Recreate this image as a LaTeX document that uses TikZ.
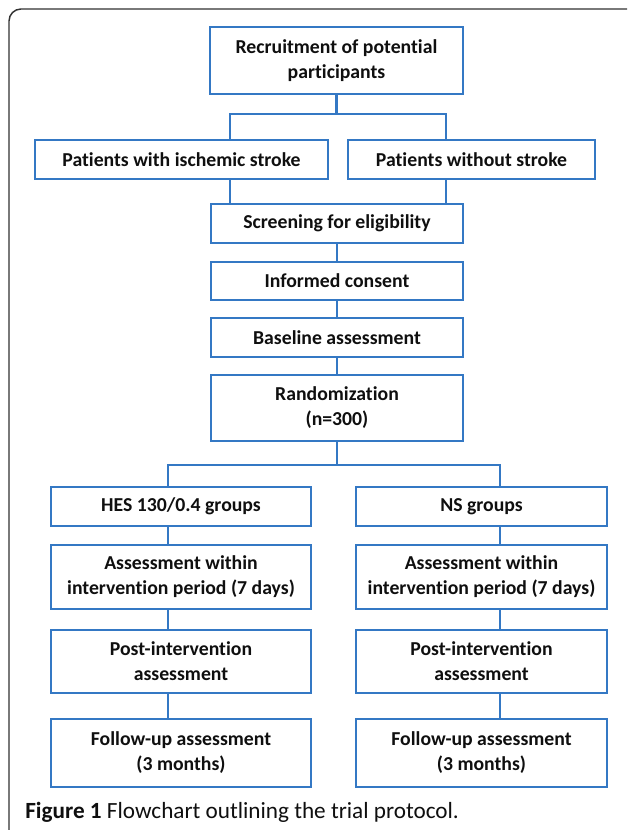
\documentclass[tikz,border=0pt]{standalone}
\usepackage{fontspec}
\setmainfont{Carlito}[Ligatures=NoCommon]
\definecolor{boxblue}{RGB}{52,120,196}
\definecolor{framegray}{RGB}{50,50,50}
\definecolor{txt}{RGB}{15,15,15}
\begin{document}
\begin{tikzpicture}[x=0.75pt,y=-0.75pt,
  box/.style={draw=boxblue,line width=1.6pt,fill=white,inner sep=0pt,anchor=center,
    align=center,text=txt,font=\fontsize{14.8}{18.75}\selectfont\bfseries},
  link/.style={draw=boxblue,line width=1.6pt}]
\useasboundingbox (0,0) rectangle (627,830);
\fill[white] (0,0) rectangle (627,830);
\draw[framegray,line width=1.1pt,rounded corners=9pt] (9,830) -- (9,9) -- (627,9);

\node[box,minimum width=253*0.75pt,minimum height=67*0.75pt] (rec) at (336.5,60.5) {Recruitment of potential\\participants};
\node[box,minimum width=293*0.75pt,minimum height=39*0.75pt] (p1) at (181.5,159.5) {Patients with ischemic stroke};
\node[box,minimum width=247*0.75pt,minimum height=39*0.75pt] (p2) at (471.5,159.5) {Patients without stroke};
\node[box,minimum width=252*0.75pt,minimum height=39*0.75pt] (scr) at (337,223.5) {Screening for eligibility};
\node[box,minimum width=252*0.75pt,minimum height=38*0.75pt] (inf) at (337,281) {Informed consent};
\node[box,minimum width=252*0.75pt,minimum height=39*0.75pt] (base) at (337,337.5) {Baseline assessment};
\node[box,minimum width=252*0.75pt,minimum height=66*0.75pt] (rand) at (337,408) {Randomization\\(n=300)};

\node[box,minimum width=260*0.75pt,minimum height=39*0.75pt] (hes) at (181,506.5) {HES 130/0.4 groups};
\node[box,minimum width=251*0.75pt,minimum height=39*0.75pt] (ns) at (481.5,506.5) {NS groups};
\node[box,minimum width=260*0.75pt,minimum height=64*0.75pt] (a1) at (181,577) {Assessment within\\intervention period (7 days)};
\node[box,minimum width=251*0.75pt,minimum height=64*0.75pt] (a2) at (481.5,577) {Assessment within\\intervention period (7 days)};
\node[box,minimum width=260*0.75pt,minimum height=63*0.75pt] (po1) at (181,661.5) {Post-intervention\\assessment};
\node[box,minimum width=251*0.75pt,minimum height=63*0.75pt] (po2) at (481.5,661.5) {Post-intervention\\assessment};
\node[box,minimum width=260*0.75pt,minimum height=68*0.75pt] (fu1) at (181,753) {Follow-up assessment\\(3 months)};
\node[box,minimum width=251*0.75pt,minimum height=68*0.75pt] (fu2) at (481.5,753) {Follow-up assessment\\(3 months)};

\coordinate (xl1) at (230,0);
\coordinate (xr1) at (446,0);
\coordinate (y1) at (0,114);
\coordinate (xl2) at (168,0);
\coordinate (xr2) at (500,0);
\coordinate (y2) at (0,465);

% top split
\draw[link] (rec.south) -- (rec.south |- y1);
\draw[link] (p1.north -| xl1) |- (y1 -| xr1) -- (p2.north -| xr1);
% merge into screening
\draw[link] (p1.south -| xl1) -- (scr.north -| xl1);
\draw[link] (p2.south -| xr1) -- (scr.north -| xr1);
% main chain
\draw[link] (scr) -- (inf);
\draw[link] (inf) -- (base);
\draw[link] (base) -- (rand);
% randomization split
\draw[link] (rand.south) -- (rand.south |- y2);
\draw[link] (hes.north -| xl2) |- (y2 -| xr2) -- (ns.north -| xr2);
% left arm
\draw[link] (hes.south -| xl2) -- (a1.north -| xl2);
\draw[link] (a1.south -| xl2) -- (po1.north -| xl2);
\draw[link] (po1.south -| xl2) -- (fu1.north -| xl2);
% right arm
\draw[link] (ns.south -| xr2) -- (a2.north -| xr2);
\draw[link] (a2.south -| xr2) -- (po2.north -| xr2);
\draw[link] (po2.south -| xr2) -- (fu2.north -| xr2);

\node[anchor=base west,inner sep=0pt,text=txt,font=\fontsize{17.4}{20}\selectfont] (cap) at (25,818)
  {\textbf{Figure 1} Flowchart outlining the trial protocol.};
\end{tikzpicture}
\end{document}
